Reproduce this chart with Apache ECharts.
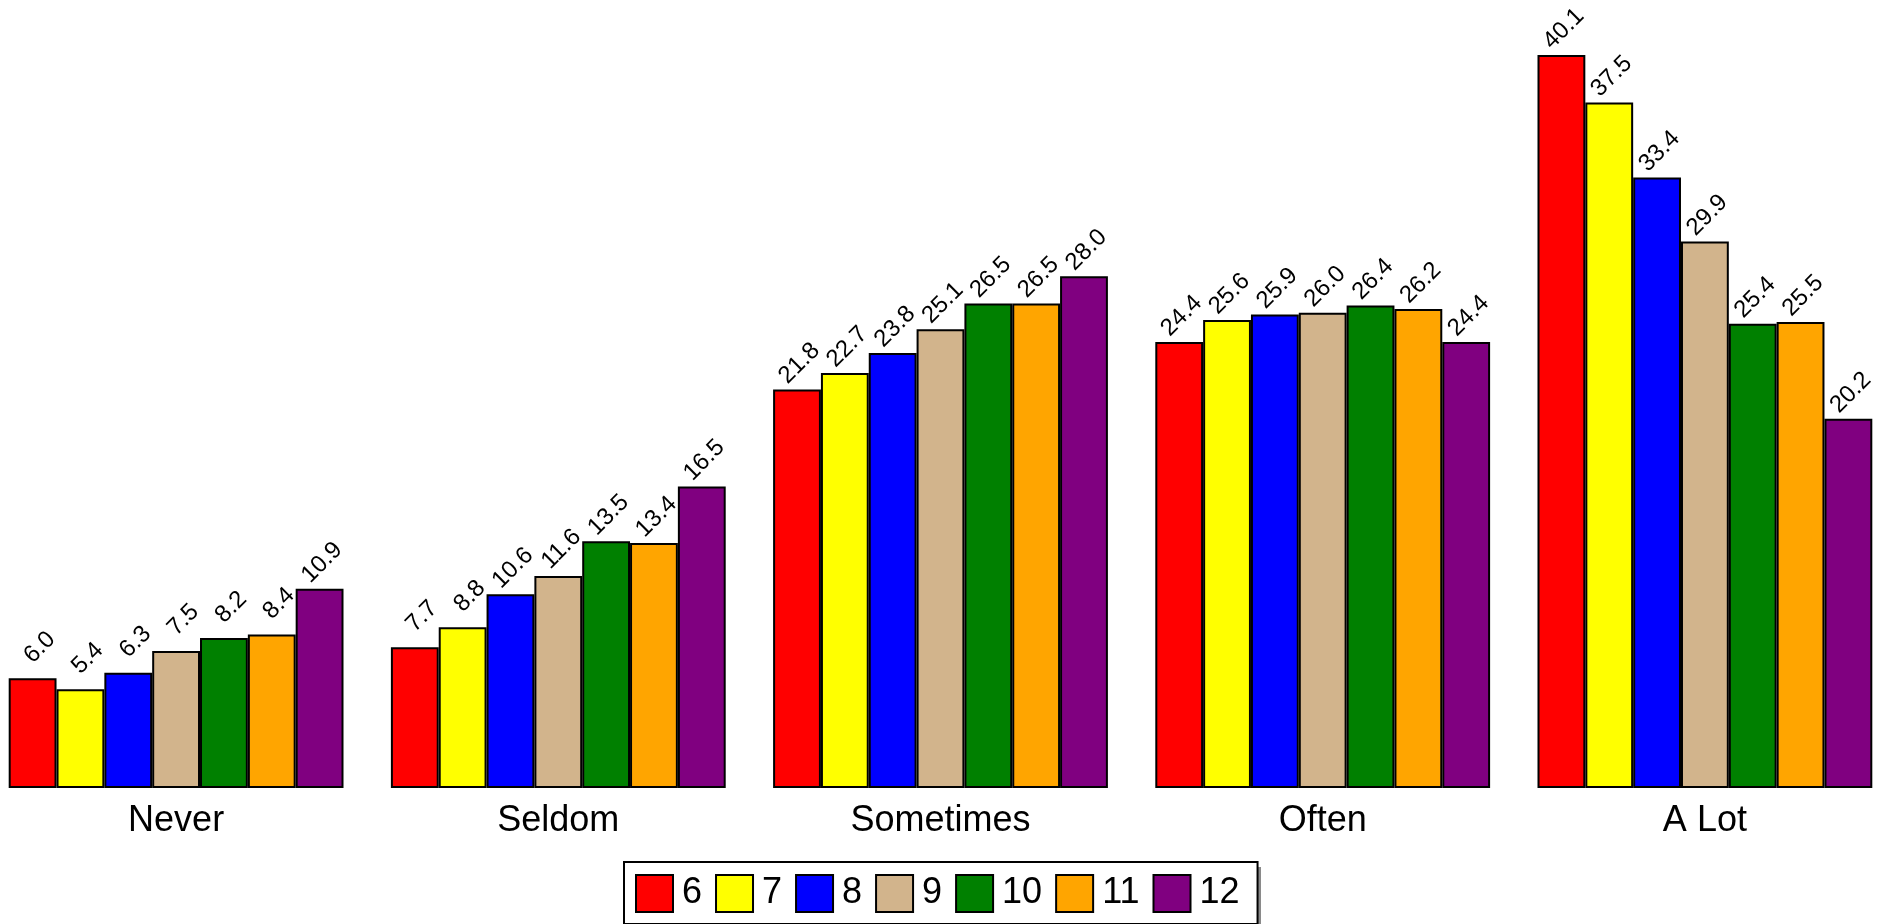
<!DOCTYPE html>
<html>
<head>
<meta charset="utf-8">
<script src="https://cdn.jsdelivr.net/npm/echarts@6/dist/echarts.min.js"></script>
<style>
html,body{margin:0;padding:0;background:#fff;overflow:hidden;width:1887px;height:924px;}
#chart{position:absolute;left:-15px;top:0;width:1911px;height:924px;}
</style>
</head>
<body>
<div id="chart"></div>
<script>
const categories = ['Never', 'Seldom', 'Sometimes', 'Often', 'A Lot'];
const seriesNames = ['6', '7', '8', '9', '10', '11', '12'];
const grade6  = [6.0, 7.7, 21.8, 24.4, 40.1];
const grade7  = [5.4, 8.8, 22.7, 25.6, 37.5];
const grade8  = [6.3, 10.6, 23.8, 25.9, 33.4];
const grade9  = [7.5, 11.6, 25.1, 26.0, 29.9];
const grade10 = [8.2, 13.5, 26.5, 26.4, 25.4];
const grade11 = [8.4, 13.4, 26.5, 26.2, 25.5];
const grade12 = [10.9, 16.5, 28.0, 24.4, 20.2];
const seriesValues = [grade6, grade7, grade8, grade9, grade10, grade11, grade12];
const colors = ['#FF0000', '#FFFF00', '#0000FF', '#D2B48C', '#008000', '#FFA500', '#800080'];

const FONT = '"Liberation Sans", Arial, Helvetica, sans-serif';
const SHIFT = 15; // chart div starts 15px left of the page
const chart = echarts.init(document.getElementById('chart'));
chart.setOption({
  animation: false,
  backgroundColor: '#ffffff',
  grid: { left: 0, right: 0, top: 55, bottom: 136, containLabel: false },
  xAxis: {
    type: 'category',
    data: categories,
    axisLine: { show: false },
    axisTick: { show: false },
    axisLabel: { color: '#000', fontFamily: FONT, fontSize: 36, margin: 15 },
    splitLine: { show: false }
  },
  yAxis: { type: 'value', min: 0, max: 40.1, show: false, splitLine: { show: false } },
  graphic: [{
    type: 'rect',
    z: 1,
    shape: { x: 624 + SHIFT + 5, y: 862 + 5, width: 632, height: 60 },
    style: { fill: '#8a8a8a' }
  }],
  legend: {
    z: 5,
    data: seriesNames,
    left: 624 + SHIFT,
    top: 862,
    orient: 'horizontal',
    itemWidth: 37,
    itemHeight: 37,
    itemGap: 13,
    padding: [12, 18, 11, 11],
    backgroundColor: '#ffffff',
    borderColor: '#000000',
    borderWidth: 2,
    borderRadius: 0,
    icon: 'rect',
    textStyle: { color: '#000', fontFamily: FONT, fontSize: 36, padding: [0, 0, 0, 4] }
  },
  series: seriesNames.map((name, i) => ({
    name: name,
    type: 'bar',
    data: seriesValues[i],
    barGap: '0%',
    barCategoryGap: '12.4%',
    itemStyle: { color: colors[i], borderColor: '#000', borderWidth: 2 },
    label: {
      show: true,
      position: 'top',
      distance: 0,
      rotate: 45,
      align: 'right',
      verticalAlign: 'middle',
      offset: [43.6, -16.8],
      color: '#000',
      fontFamily: FONT,
      fontSize: 24,
      formatter: p => p.value.toFixed(1)
    }
  }))
});
</script>
</body>
</html>
